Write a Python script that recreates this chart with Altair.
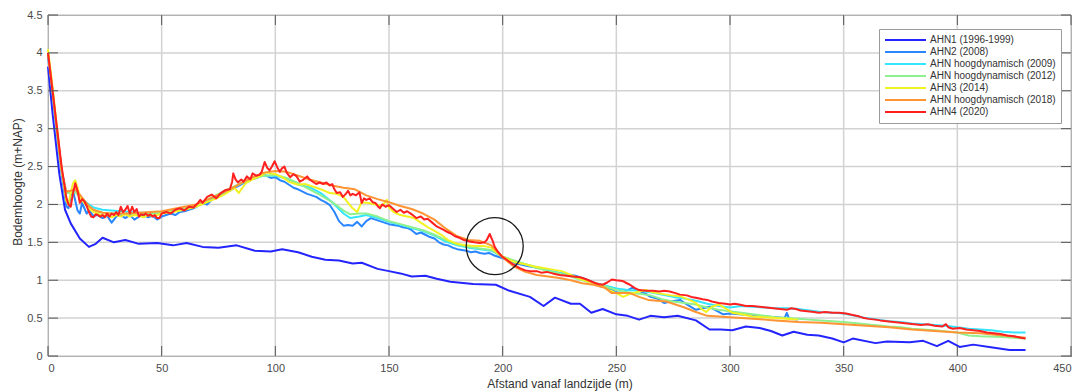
import altair as alt
import pandas as pd

# Cross-shore profiles: distance from the landward side (m) vs bed level (m+NAP)
SERIES = [
    "AHN1 (1996-1999)",
    "AHN2 (2008)",
    "AHN hoogdynamisch (2009)",
    "AHN hoogdynamisch (2012)",
    "AHN3 (2014)",
    "AHN hoogdynamisch (2018)",
    "AHN4 (2020)",
]
COLORS = ["#2424ff", "#2a86ff", "#33e6ff", "#8ef08e", "#f2f222", "#ff9433", "#ff2020"]

ahn1_x = [0, 2, 5, 7.5, 10, 14, 18, 21, 24, 29, 34, 40, 48, 55, 61, 68, 75, 83, 91, 98,
          103, 110, 116, 122, 128, 134, 138, 145, 150, 155, 160, 166, 171, 177, 187, 197,
          203, 212, 218, 223, 230, 234, 239, 244, 250, 255, 260, 265, 271, 277, 285, 291,
          296, 301, 307, 313, 318, 323, 328, 334, 339, 345, 350, 354, 364, 369, 379, 385,
          391, 396, 401, 407, 414, 423, 430]
ahn1_y = [3.82, 3.2, 2.4, 1.93, 1.75, 1.55, 1.44, 1.48, 1.56, 1.50, 1.53, 1.48, 1.49, 1.46,
          1.49, 1.44, 1.43, 1.46, 1.39, 1.38, 1.41, 1.37, 1.31, 1.27, 1.26, 1.22, 1.23, 1.15,
          1.12, 1.09, 1.05, 1.06, 1.02, 0.98, 0.95, 0.94, 0.86, 0.78, 0.66, 0.77, 0.69, 0.69,
          0.57, 0.62, 0.55, 0.53, 0.48, 0.53, 0.51, 0.53, 0.47, 0.35, 0.35, 0.34, 0.39, 0.37,
          0.33, 0.27, 0.32, 0.28, 0.27, 0.23, 0.18, 0.23, 0.17, 0.19, 0.18, 0.20, 0.13, 0.20,
          0.12, 0.15, 0.12, 0.08, 0.08]

ahn2_x = [0, 2, 4, 6, 8, 9, 10, 11, 12, 13, 14, 15, 16, 17, 18, 20, 22, 24, 26, 28, 30, 32,
          34, 36, 38, 40, 42, 44, 46, 48, 50, 52, 54, 56, 58, 60, 62, 64, 66, 68, 70, 72, 74,
          76, 78, 80, 82, 84, 86, 88, 90, 92, 94, 96, 98, 100, 102, 104, 106, 108, 110, 112,
          114, 116, 118, 120, 122, 124, 126, 128, 130, 132, 134, 136, 138, 140, 142, 144, 146,
          148, 150, 152, 154, 156, 158, 160, 162, 164, 166, 168, 170, 172, 174, 176, 178, 180,
          182, 184, 186, 188, 190, 192, 194, 196, 198, 200, 203, 206, 209, 212, 216, 220, 224,
          228, 232, 236, 240, 243, 246, 250, 252, 255, 257, 260, 263, 265, 268, 271, 274, 278,
          281, 285, 288, 291, 294, 297, 300, 304, 308, 312, 316, 320, 324, 325, 326, 330]
ahn2_y = [3.95, 3.45, 2.9, 2.4, 1.98, 1.95, 2.12, 2.18, 2.05, 1.92, 1.88, 2.02, 1.95, 1.88,
          1.92, 1.85, 1.86, 1.82, 1.85, 1.76, 1.84, 1.86, 1.82, 1.86, 1.80, 1.84, 1.86, 1.83,
          1.85, 1.80, 1.84, 1.86, 1.88, 1.86, 1.90, 1.91, 1.93, 1.95, 1.98, 2.02, 2.00, 2.06,
          2.10, 2.12, 2.16, 2.18, 2.22, 2.25, 2.28, 2.30, 2.34, 2.35, 2.40, 2.38, 2.35, 2.36,
          2.32, 2.30, 2.26, 2.22, 2.20, 2.17, 2.14, 2.12, 2.10, 2.06, 2.03, 1.99, 1.90, 1.78,
          1.72, 1.73, 1.72, 1.77, 1.71, 1.78, 1.82, 1.80, 1.78, 1.76, 1.74, 1.73, 1.72, 1.70,
          1.69, 1.66, 1.61, 1.63, 1.60, 1.57, 1.55, 1.50, 1.47, 1.46, 1.43, 1.41, 1.40, 1.39,
          1.37, 1.38, 1.36, 1.35, 1.36, 1.33, 1.31, 1.29, 1.26, 1.22, 1.20, 1.18, 1.16, 1.13,
          1.10, 1.08, 1.06, 1.02, 0.97, 0.92, 0.90, 0.84, 0.83, 0.87, 0.90, 0.86, 0.82, 0.78,
          0.76, 0.70, 0.72, 0.74, 0.68, 0.61, 0.63, 0.65, 0.60, 0.55, 0.56, 0.55, 0.54, 0.53,
          0.52, 0.51, 0.50, 0.57, 0.49, 0.48]

hd2009_x = [0, 2, 4, 6, 8, 10, 12, 14, 16, 18, 20, 24, 28, 32, 36, 40, 45, 50, 55, 60, 65,
            70, 75, 80, 85, 90, 95, 100, 105, 110, 115, 120, 125, 130, 133, 137, 140, 145,
            150, 155, 160, 165, 170, 175, 180, 185, 190, 195, 200, 205, 210, 215, 220, 225,
            230, 235, 240, 245, 250, 255, 260, 265, 270, 275, 280, 285, 290, 295, 300, 305,
            310, 315, 320, 325, 330, 335, 340, 345, 350, 355, 360, 365, 370, 375, 380, 385,
            390, 395, 400, 405, 410, 415, 420, 425, 430]
hd2009_y = [4.0, 3.5, 2.95, 2.45, 2.17, 2.17, 2.17, 2.12, 2.05, 2.0, 1.96, 1.93, 1.92, 1.91,
            1.90, 1.89, 1.89, 1.89, 1.91, 1.94, 1.98, 2.04, 2.12, 2.20, 2.28, 2.34, 2.38, 2.38,
            2.34, 2.26, 2.23, 2.15, 2.03, 1.88, 1.82, 1.84, 1.86, 1.82, 1.77, 1.73, 1.69, 1.65,
            1.59, 1.51, 1.46, 1.43, 1.41, 1.39, 1.31, 1.25, 1.21, 1.17, 1.13, 1.10, 1.06, 1.01,
            0.97, 0.93, 0.89, 0.87, 0.86, 0.84, 0.81, 0.78, 0.76, 0.73, 0.69, 0.66, 0.64, 0.66,
            0.65, 0.64, 0.63, 0.63, 0.62, 0.60, 0.58, 0.57, 0.56, 0.53, 0.50, 0.48, 0.46, 0.45,
            0.43, 0.42, 0.41, 0.40, 0.38, 0.36, 0.35, 0.34, 0.32, 0.31, 0.31]

hd2012_x = [0, 2, 4, 6, 8, 10, 12, 14, 16, 18, 20, 24, 28, 32, 36, 40, 45, 50, 55, 60, 65,
            70, 75, 80, 85, 90, 95, 100, 105, 110, 115, 120, 125, 130, 133, 137, 140, 145,
            150, 155, 160, 165, 170, 175, 180, 185, 190, 195, 200, 205, 210, 215, 220, 225,
            230, 235, 240, 245, 250, 255, 260, 265, 270, 275, 280, 285, 290, 295, 300, 305,
            310, 315, 320, 325, 330, 335, 340, 350, 360, 370, 375, 380, 390, 400, 405, 410,
            420, 430]
hd2012_y = [4.0, 3.5, 2.95, 2.45, 2.15, 2.15, 2.16, 2.10, 2.02, 1.96, 1.92, 1.89, 1.88, 1.88,
            1.87, 1.87, 1.88, 1.89, 1.92, 1.95, 1.99, 2.06, 2.14, 2.21, 2.28, 2.34, 2.38, 2.39,
            2.35, 2.28, 2.20, 2.12, 2.03, 1.92, 1.87, 1.88, 1.88, 1.84, 1.78, 1.74, 1.70, 1.66,
            1.60, 1.53, 1.47, 1.44, 1.42, 1.40, 1.31, 1.26, 1.21, 1.16, 1.12, 1.09, 1.05, 1.00,
            0.96, 0.92, 0.87, 0.84, 0.82, 0.80, 0.75, 0.72, 0.70, 0.68, 0.64, 0.61, 0.59, 0.57,
            0.55, 0.53, 0.51, 0.50, 0.49, 0.48, 0.47, 0.45, 0.42, 0.39, 0.38, 0.36, 0.34, 0.31,
            0.27, 0.26, 0.25, 0.23]

ahn3_x = [0, 2, 4, 6, 8, 9, 10, 11, 12, 13, 14, 16, 18, 20, 22, 24, 26, 28, 30, 32, 34, 36,
          38, 40, 42, 44, 46, 48, 50, 55, 60, 65, 70, 74, 78, 80, 82, 84, 85, 87, 90, 93, 96,
          100, 103, 106, 110, 113, 116, 120, 124, 127, 130, 132, 134, 136, 138, 141, 144, 147,
          149, 150, 152, 155, 158, 161, 164, 167, 170, 173, 176, 180, 184, 188, 192, 195, 198,
          202, 206, 210, 214, 218, 222, 226, 230, 234, 238, 242, 246, 250, 253, 256, 260, 263,
          266, 270, 274, 278, 282, 285, 287, 289.5, 292, 295, 298, 301, 305, 310, 315, 320,
          325, 330]
ahn3_y = [4.05, 3.55, 3.0, 2.45, 2.05, 2.0, 2.15, 2.28, 2.32, 2.22, 2.10, 2.02, 1.95, 1.90,
          1.88, 1.85, 1.86, 1.83, 1.86, 1.84, 1.87, 1.84, 1.86, 1.85, 1.83, 1.86, 1.85, 1.86,
          1.88, 1.90, 1.93, 1.97, 2.03, 2.08, 2.14, 2.18, 2.22, 2.15, 2.20, 2.28, 2.33, 2.37,
          2.42, 2.40, 2.36, 2.30, 2.26, 2.27, 2.24, 2.20, 2.15, 2.14, 2.10, 2.02, 1.95, 1.90,
          2.03, 2.02, 2.00, 1.98, 2.06, 1.96, 1.90, 1.86, 1.84, 1.82, 1.76, 1.70, 1.65, 1.60,
          1.53, 1.48, 1.46, 1.45, 1.45, 1.43, 1.35, 1.28, 1.23, 1.21, 1.18, 1.16, 1.14, 1.12,
          1.07, 1.02, 0.98, 0.95, 0.88, 0.83, 0.78, 0.82, 0.85, 0.87, 0.84, 0.82, 0.80, 0.79,
          0.74, 0.70, 0.63, 0.58, 0.65, 0.68, 0.63, 0.57, 0.55, 0.52, 0.51, 0.50, 0.49, 0.48]

hd2018_x = [0, 2, 4, 6, 8, 10, 12, 14, 16, 18, 20, 24, 28, 32, 36, 40, 45, 50, 55, 60, 65,
            70, 75, 80, 85, 90, 95, 100, 105, 110, 115, 120, 125, 130, 135, 140, 145, 150,
            155, 160, 165, 170, 175, 180, 185, 190, 195, 200, 205, 210, 215, 220, 225, 230,
            235, 240, 245, 248, 252, 256, 260, 264, 268, 272, 276, 280, 285, 290, 295, 300,
            305, 310, 315, 320, 325, 330, 340, 350, 360, 370, 380, 390, 400, 410, 420, 430]
hd2018_y = [4.0, 3.5, 2.95, 2.45, 2.17, 2.18, 2.20, 2.13, 2.05, 1.98, 1.93, 1.89, 1.88, 1.88,
            1.88, 1.89, 1.90, 1.91, 1.94, 1.97, 2.00, 2.06, 2.13, 2.20, 2.28, 2.36, 2.42, 2.44,
            2.43, 2.38, 2.33, 2.29, 2.25, 2.22, 2.20, 2.12, 2.07, 2.03, 1.98, 1.94, 1.88, 1.80,
            1.68, 1.58, 1.53, 1.52, 1.46, 1.30, 1.18, 1.11, 1.07, 1.05, 1.03, 1.00, 0.96, 0.94,
            0.90, 0.83, 0.83, 0.83, 0.78, 0.74, 0.73, 0.72, 0.68, 0.64, 0.58, 0.53, 0.52, 0.51,
            0.50, 0.49, 0.48, 0.47, 0.46, 0.45, 0.44, 0.42, 0.40, 0.38, 0.35, 0.33, 0.31, 0.30,
            0.27, 0.24]

ahn4_x = [0, 2, 4, 6, 8, 9, 10, 11, 12, 13, 14, 15, 16, 17, 18, 19, 20, 21, 22, 23, 24, 25,
          26, 27, 28, 29, 30, 31, 32, 33, 34, 35, 36, 37, 38, 39, 40, 41, 42, 43, 44, 45, 46,
          47, 48, 49, 50, 52, 54, 56, 58, 60, 62, 64, 66, 67, 68, 70, 72, 74, 76, 78, 80, 81,
          81.5, 82.5, 83.5, 85, 86, 87.5, 89, 90, 91.5, 93, 94, 95.3, 96.5, 97.5, 98.5, 99.7,
          101, 102, 103, 104, 105, 106.5, 108, 109.4, 110.8, 112, 114, 115, 116.5, 118, 119.5,
          121, 122.5, 124, 125, 126, 127, 128.5, 129.7, 131, 132, 133, 134, 135.5, 137, 138,
          139, 140, 141.5, 142.8, 144, 145, 146, 147, 148.5, 150, 151.5, 153.4, 155, 156.5,
          158, 160, 162, 164, 165.5, 167, 169, 171, 173, 175.4, 177, 179, 181, 183, 185.5,
          187.5, 190, 192, 193, 194.3, 195.6, 196.5, 197.8, 199.5, 201.8, 204, 207.5, 210,
          212, 215, 217, 219.4, 222, 225, 228, 231, 234, 237, 240, 242, 244, 246, 248, 250,
          252.7, 254, 256, 258, 260, 263, 266, 269, 271, 273.5, 276, 278, 281, 283, 285, 288,
          290, 292, 295, 298, 300, 302, 304, 307, 310, 313, 316, 319, 322, 325, 327, 329, 331,
          334, 337, 339, 342, 345, 348, 351, 354, 357, 359, 361, 364, 366, 369, 372, 375, 378,
          381, 384, 387, 390, 393.5, 395, 396, 398, 401, 404, 407, 410, 413, 416, 419, 422,
          425, 428, 430]
ahn4_y = [4.0, 3.5, 3.0, 2.5, 2.1, 2.0, 1.97, 2.15, 2.28, 2.18, 2.02, 2.07, 2.04, 1.98, 1.90,
          1.84, 1.83, 1.87, 1.86, 1.84, 1.86, 1.83, 1.88, 1.84, 1.88, 1.86, 1.90, 1.86, 1.97,
          1.90, 1.93, 1.98, 1.88, 1.97, 1.90, 1.94, 1.84, 1.87, 1.86, 1.88, 1.85, 1.87, 1.84,
          1.86, 1.82, 1.82, 1.88, 1.90, 1.88, 1.93, 1.95, 1.92, 1.97, 1.96, 2.02, 2.06, 2.02,
          2.10, 2.13, 2.08, 2.15, 2.19, 2.20, 2.30, 2.41, 2.33, 2.29, 2.33, 2.30, 2.37, 2.33,
          2.41, 2.38, 2.39, 2.43, 2.56, 2.48, 2.45, 2.50, 2.57, 2.48, 2.43, 2.48, 2.50, 2.42,
          2.36, 2.40, 2.37, 2.30, 2.32, 2.37, 2.33, 2.30, 2.27, 2.29, 2.27, 2.29, 2.25, 2.27,
          2.20, 2.15, 2.16, 2.10, 2.14, 2.18, 2.12, 2.14, 2.12, 2.16, 2.02, 2.08, 2.06, 2.08,
          2.03, 2.02, 1.98, 1.95, 2.00, 1.97, 1.99, 1.95, 1.90, 1.93, 1.89, 1.91, 1.87, 1.82,
          1.84, 1.80, 1.81, 1.76, 1.71, 1.68, 1.64, 1.62, 1.58, 1.56, 1.53, 1.51, 1.50, 1.49,
          1.50, 1.53, 1.61, 1.52, 1.44, 1.38, 1.32, 1.27, 1.22, 1.16, 1.13, 1.12, 1.12, 1.10,
          1.11, 1.09, 1.07, 1.06, 1.05, 1.04, 1.01, 0.97, 0.95, 0.94, 0.97, 1.01, 1.00, 0.99,
          0.97, 0.94, 0.90, 0.87, 0.86, 0.86, 0.85, 0.86, 0.85, 0.83, 0.81, 0.80, 0.78, 0.77,
          0.75, 0.74, 0.72, 0.70, 0.69, 0.68, 0.69, 0.68, 0.66, 0.66, 0.65, 0.64, 0.63, 0.62,
          0.61, 0.63, 0.62, 0.60, 0.59, 0.58, 0.57, 0.58, 0.57, 0.57, 0.56, 0.54, 0.52, 0.50,
          0.49, 0.48, 0.47, 0.46, 0.45, 0.44, 0.43, 0.42, 0.41, 0.42, 0.40, 0.39, 0.42, 0.38,
          0.36, 0.37, 0.35, 0.34, 0.33, 0.31, 0.30, 0.29, 0.27, 0.26, 0.24, 0.23]

x_ticks = [0, 50, 100, 150, 200, 250, 300, 350, 400, 450]
y_ticks = [0, 0.5, 1, 1.5, 2, 2.5, 3, 3.5, 4, 4.5]

# highlighted spot (circle) on the profile
marker_x = [196.5]
marker_y = [1.45]

W, H = 1023, 341
FONT = "Liberation Sans"
GRID = "#d2d2d2"
TICK = "#555555"

pairs = [(ahn1_x, ahn1_y), (ahn2_x, ahn2_y), (hd2009_x, hd2009_y), (hd2012_x, hd2012_y),
         (ahn3_x, ahn3_y), (hd2018_x, hd2018_y), (ahn4_x, ahn4_y)]
frames = []
for i, (name, (xs, ys)) in enumerate(zip(SERIES, pairs)):
    frames.append(pd.DataFrame({"x": xs, "y": ys, "serie": name, "k": i}))
profiles = pd.concat(frames, ignore_index=True)

xscale = alt.Scale(domain=[0, 450], nice=False, zero=False)
yscale = alt.Scale(domain=[0, 4.5], nice=False, zero=False)
common = dict(domain=False, ticks=False, grid=False,
              labelFont=FONT, labelFontSize=11, labelColor="#4a4a4a", labelPadding=6,
              titleFont=FONT, titleFontSize=12, titleFontWeight="normal",
              titleColor="#333333", titleBaseline="middle")
xaxis = alt.Axis(values=x_ticks, title="Afstand vanaf landzijde (m)", titleY=27, **common)
yaxis = alt.Axis(values=y_ticks, format="~g", title="Bodemhoogte (m+NAP)",
                 titleX=-31, titleY=H / 2 - 4, **common)
X = lambda: alt.X("x:Q", scale=xscale, axis=xaxis)
Y = lambda: alt.Y("y:Q", scale=yscale, axis=yaxis)

xt = pd.DataFrame({"x": x_ticks})
yt = pd.DataFrame({"y": y_ticks})

# light grid, drawn first so that every profile sits on top of it
vgrid = alt.Chart(xt).mark_rule(color=GRID, strokeWidth=1.5).encode(
    x=X(), y=alt.value(0), y2=alt.value(H))
hgrid = alt.Chart(yt).mark_rule(color=GRID, strokeWidth=1.5).encode(
    y=Y(), x=alt.value(0), x2=alt.value(W))

lines = alt.Chart(profiles).mark_line(strokeWidth=2, strokeJoin="round").encode(
    x=X(),
    y=Y(),
    color=alt.Color("serie:N", scale=alt.Scale(domain=SERIES, range=COLORS),
                    sort=SERIES,
                    legend=alt.Legend(title=None, orient="none", legendX=831, legendY=14,
                                      symbolType="stroke", symbolSize=1681,
                                      symbolStrokeWidth=2, clipHeight=12, rowPadding=0,
                                      labelFontSize=10, labelOffset=3, labelFont=FONT,
                                      labelColor="#333333", padding=5,
                                      strokeColor="#9a9a9a", fillColor="white")),
    order=alt.Order("k:Q"),
    detail="k:Q",
)

# inward tick marks on all four sides of the box
bottom_ticks = alt.Chart(xt).mark_rule(color=TICK, strokeWidth=1).encode(
    x=X(), y=alt.value(H), y2=alt.value(H - 10))
top_ticks = alt.Chart(xt).mark_rule(color=TICK, strokeWidth=1).encode(
    x=X(), y=alt.value(0), y2=alt.value(10))
left_ticks = alt.Chart(yt).mark_rule(color=TICK, strokeWidth=1).encode(
    y=Y(), x=alt.value(0), x2=alt.value(10))
right_ticks = alt.Chart(yt).mark_rule(color=TICK, strokeWidth=1).encode(
    y=Y(), x=alt.value(W - 10), x2=alt.value(W))

marker = alt.Chart(pd.DataFrame({"x": marker_x, "y": marker_y})).mark_point(
    shape="circle", filled=False, size=3250, color="#1a1a1a", strokeWidth=1.3, opacity=1
).encode(x=X(), y=Y())

chart = alt.layer(vgrid, hgrid, lines, marker, bottom_ticks, top_ticks, left_ticks,
                  right_ticks).properties(
    width=W, height=H,
    background="white",
    autosize=alt.AutoSizeParams(type="none"),
    padding={"left": 48, "top": 15, "right": 10, "bottom": 36},
).configure_view(stroke="#555555", strokeWidth=1)

chart.save("out.html", embed_options={"renderer": "svg", "actions": False})
